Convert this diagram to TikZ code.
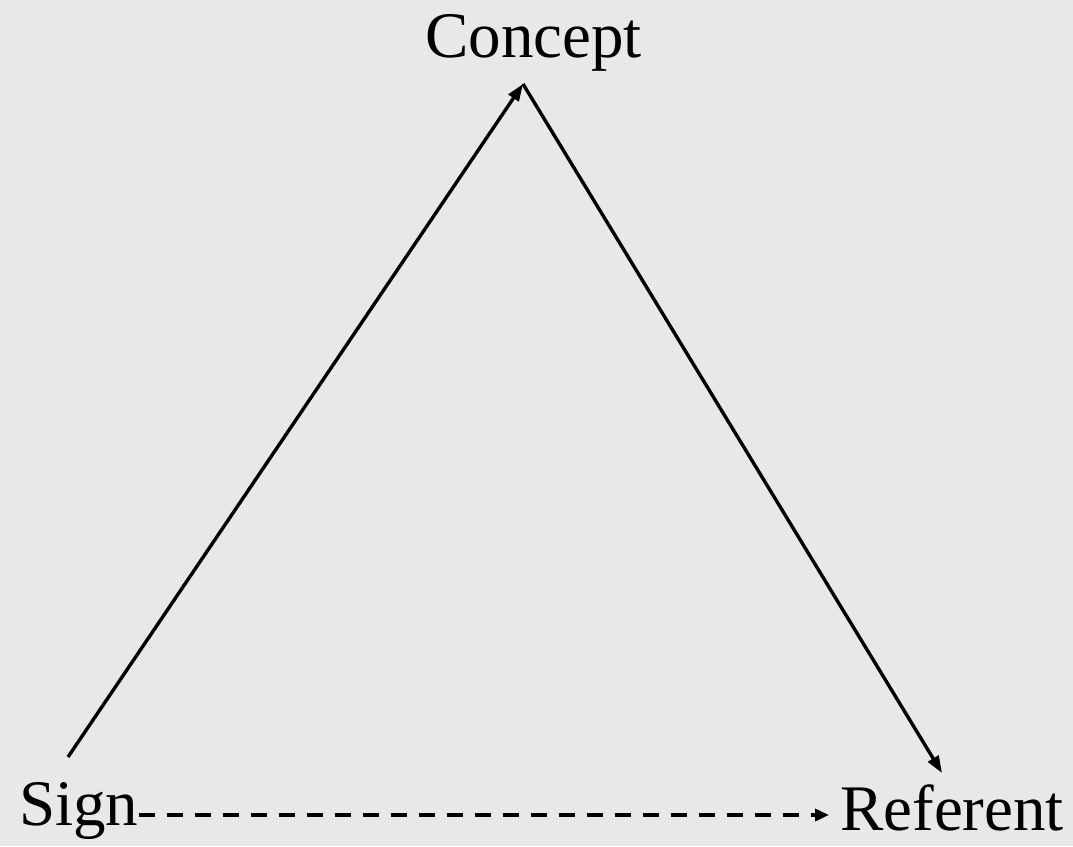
\documentclass[tikz,border=0pt]{standalone}
\usepackage{fontspec}
\setmainfont{Liberation Serif}
\usetikzlibrary{arrows.meta, positioning}
\definecolor{bgcol}{HTML}{E8E8E8}

\begin{document}
\begin{tikzpicture}[x=1pt, y=1pt, >={Triangle[length=17pt, width=12pt]},
    word/.style={font=\fontsize{65}{70}\selectfont, inner sep=0pt, anchor=base west},
    link/.style={line width=3.4pt, ->}]
	% Background
	\fill[bgcol] (0,0) rectangle (1073,846);
	
	% Words
	\node[word] (concept) at (425,788) {Concept};
	\node[word] (sign) at (19,21) {Sign};
	\node[word] (referent) at (840,16) {Referent};
	
	% Ends of the sides
	\coordinate (apex) at (523,762);
	\coordinate (signtop) at (68,89);
	\coordinate (reftop) at (942,73);
	
	% Sides
	\draw[link] (signtop) -- (apex);
	\draw[link] (apex) -- (reftop);
	\draw[link, line width=3.8pt, -{Triangle[length=14pt, width=12pt]}, dash pattern=on 16pt off 12pt]
		(sign.east |- 0,31) -- ([xshift=-11pt]referent.west |- 0,31);
\end{tikzpicture}
\end{document}
